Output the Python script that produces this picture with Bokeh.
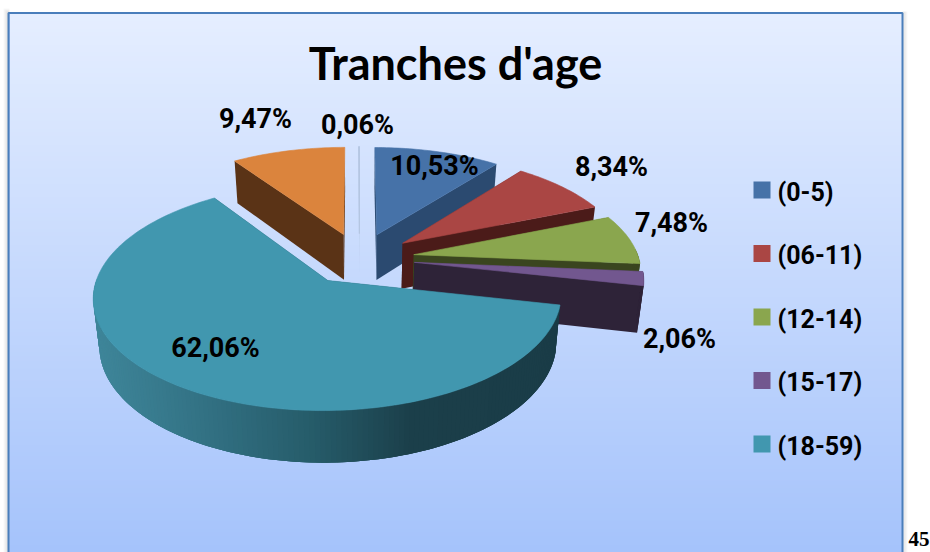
import math
from bokeh.plotting import figure
from bokeh.models import Range1d
from bokeh.core.properties import value
from bokeh.embed import file_html
from bokeh.resources import INLINE

TITLE = "Tranches d'age"
categories = ["(0-5)", "(06-11)", "(12-14)", "(15-17)", "(18-59)"]
slice_names = ["(0-5)", "(06-11)", "(12-14)", "(15-17)", "(18-59)", "autre", "vide"]
shares = [10.53, 8.34, 7.48, 2.06, 62.06, 9.47, 0.06]
share_labels = ["10,53%", "8,34%", "7,48%", "2,06%", "62,06%", "9,47%", "0,06%"]

top_colors = ["#4672A8", "#AA4644", "#8AA64E", "#72578F", "#4197AF", "#DB843D", "#B4C6E2"]
wall_colors = ["#2B4A70", "#4B1B19", "#3A451F", "#2E2338", "#1A3C47", "#5A3316", "#B4C6E2"]
label_xy = [(434, 165), (611, 166), (671, 222), (679, 338), (215, 347), (255, 118), (357, 124)]

W, H = 930, 552
CX, CY, A, B, K, D = 359.0, 258.0, 225.0, 105.4, 0.138, 0.245


def project(x, y):
    w = 1 - K * y
    return CX + A * x / w, CY + B * y / w


def lower(pt):
    return CX + 0.977 * (pt[0] - CX), CY + 46 + 1.04 * (pt[1] - CY)


def wall_shade(x):
    stops = [(100, (62, 133, 153)), (200, (50, 113, 131)), (300, (38, 92, 106)),
             (400, (27, 63, 74)), (560, (26, 60, 71))]
    if x <= stops[0][0]:
        c = stops[0][1]
    else:
        c = stops[-1][1]
        for (x0, c0), (x1, c1) in zip(stops, stops[1:]):
            if x0 <= x <= x1:
                t = (x - x0) / (x1 - x0)
                c = tuple(c0[i] + t * (c1[i] - c0[i]) for i in range(3))
                break
    return "#%02x%02x%02x" % tuple(int(round(v)) for v in c)


p = figure(width=W, height=H, output_backend="svg", toolbar_location=None,
           x_range=Range1d(0, W), y_range=Range1d(H, 0),
           min_border=0, outline_line_color=None, background_fill_color="white",
           border_fill_color="white")
p.axis.visible = False
p.grid.visible = False
p.styles = {"position": "absolute", "left": "0px", "top": "0px"}

# frame shadow, gradient and border
p.quad(left=[3, 4, 5, 6, 902, 902, 902], right=[9, 9, 9, 9, 905, 906, 907], top=[8, 9, 10, 11, 11, 11, 11],
       bottom=[H] * 7, fill_color="#808080", fill_alpha=0.06, line_color=None)
y0, y1 = 12, H
steps = 135
tops = [y0 + (y1 - y0) * i / steps for i in range(steps)]
bots = [y0 + (y1 - y0) * (i + 1) / steps + 0.5 for i in range(steps)]
c0, c1 = (229, 238, 255), (165, 195, 251)
grad = ["#%02x%02x%02x" % tuple(int(round(c0[j] + (c1[j] - c0[j]) * i / (steps - 1))) for j in range(3))
        for i in range(steps)]
p.quad(left=9, right=902, top=tops, bottom=bots, fill_color=grad, line_color=None)
p.line([9, 9], [13, H], line_color="#A9C4F0", line_width=1)
p.line([8, 8, 902, 902], [H, 12.5, 12.5, H], line_color="#4A7EBB", line_width=2)

# pie
starts = []
acc = 0.0
for s in shares:
    starts.append(acc)
    acc += s
total = acc


def ang(pct):
    return 2 * math.pi * pct / total


def slice_geom(i):
    a0, a1 = ang(starts[i]), ang(starts[i] + shares[i])
    mid = (a0 + a1) / 2
    ox, oy = D * math.sin(mid), -D * math.cos(mid)
    n = max(2, int((a1 - a0) / 0.02))
    arc = []
    for j in range(n + 1):
        t = a0 + (a1 - a0) * j / n
        arc.append(project(ox + math.sin(t), oy - math.cos(t)))
    apex = project(ox, oy)
    return apex, arc, a0, a1


order = [5, 6, 0, 1, 2, 3, 4]
for i in order:
    apex, arc, a0, a1 = slice_geom(i)
    wall = wall_colors[i]
    xs, ys, cols = [], [], []
    # radial walls
    for end in (arc[0], arc[-1]):
        q = [apex, end, lower(end), lower(apex)]
        xs.append([c[0] for c in q])
        ys.append([c[1] for c in q])
        cols.append(wall)
    # outer wall: each strip overlaps the one painted before it, so no seams show
    n = len(arc) - 1
    for j in range(n):
        t = a0 + (a1 - a0) * (j + 0.5) / n
        if math.cos(t) > 0.02:
            continue
        back = arc[max(j - 2, 0)]
        q = [back, arc[j], arc[j + 1], lower(arc[j + 1]), lower(arc[j]), lower(back)]
        xs.append([c[0] for c in q])
        ys.append([c[1] for c in q])
        cols.append(wall_shade(0.5 * (q[3][0] + q[4][0])) if i == 4 else wall)
    p.patches(xs, ys, fill_color=cols, line_color=None)
    tx = [apex[0]] + [c[0] for c in arc]
    ty = [apex[1]] + [c[1] for c in arc]
    p.patch(tx, ty, fill_color=top_colors[i], line_color=top_colors[i], line_width=1 if i == 6 else 0.6)

# labels
LABEL_FONT = value("Roboto")
p.text([c[0] for c in label_xy], [c[1] for c in label_xy], text=share_labels,
       text_font=LABEL_FONT, text_font_style="bold", text_font_size="27px",
       text_align="center", text_baseline="middle", text_color="black")

p.text([455], [62], text=[TITLE], text_font=value("Lato"), text_font_style="bold",
       text_font_size="45px", text_align="center", text_baseline="middle", text_color="black")

# legend
leg_y = [189.5 + 63.5 * i for i in range(len(categories))]
p.quad(left=753, right=770, top=[y - 8.5 for y in leg_y], bottom=[y + 8.5 for y in leg_y],
       fill_color=top_colors[:5], line_color=None)
p.text([777] * 5, [y + 2 for y in leg_y], text=categories, text_font=LABEL_FONT, text_font_style="bold",
       text_font_size="25px", text_align="left", text_baseline="middle", text_color="black")

p.text([908], [538], text=["45"], text_font=value("Liberation Serif"), text_font_style="bold",
       text_font_size="21px", text_align="left", text_baseline="middle", text_color="black")

open("out.html", "w").write(file_html(p, INLINE))
